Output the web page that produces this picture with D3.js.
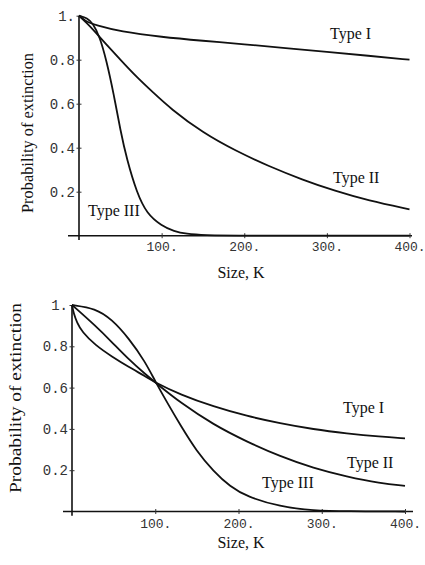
<!DOCTYPE html>
<html>
<head>
<meta charset="utf-8">
<script src="https://cdn.jsdelivr.net/npm/d3@7"></script>
<style>
  body { margin: 0; background: #fff; }
  svg { display: block; }
  .tick text { font-family: "Liberation Mono", "DejaVu Sans Mono", monospace; fill: #333; }
  .lbl { font-family: "Liberation Serif", "Times New Roman", serif; fill: #111; }
</style>
</head>
<body>
<div id="chart"></div>
<script>
// values: [K, probability]
const xTicks = [100, 200, 300, 400]
const yTicks = [0.2, 0.4, 0.6, 0.8, 1]
const seriesNames = ["Type I", "Type II", "Type III"]

// upper panel
const topTypeI = [[0,1],[5,0.985],[10,0.972],[20,0.957],[50,0.928],[100,0.903],[150,0.886],[200,0.87],[250,0.853],[300,0.836],[350,0.818],[400,0.8]]
const topTypeII = [[0,1],[10,0.965],[20,0.925],[30,0.882],[50,0.8],[70,0.72],[90,0.65],[110,0.58],[150,0.467],[190,0.385],[230,0.315],[270,0.255],[310,0.203],[350,0.16],[400,0.12]]
const topTypeIII = [[0,1],[10,0.99],[17,0.965],[25,0.905],[33,0.8],[42,0.645],[50,0.48],[58,0.345],[70,0.195],[82,0.1],[100,0.045],[115,0.02],[130,0.008],[150,0.002],[200,0],[400,0]]

// lower panel
const botTypeI = [[0,1],[2,0.96],[6,0.915],[12,0.87],[28,0.805],[48,0.75],[68,0.7],[88,0.655],[100,0.625],[130,0.566],[170,0.508],[210,0.462],[250,0.427],[290,0.398],[330,0.378],[370,0.362],[400,0.354]]
const botTypeII = [[0,1],[28,0.9],[48,0.82],[68,0.737],[88,0.665],[104,0.612],[130,0.528],[170,0.42],[210,0.338],[250,0.267],[290,0.21],[330,0.169],[370,0.137],[400,0.124]]
const botTypeIII = [[0,1],[28,0.984],[48,0.93],[68,0.84],[88,0.725],[100,0.63],[116,0.516],[130,0.42],[150,0.29],[170,0.195],[190,0.12],[210,0.072],[250,0.023],[290,0.004],[330,0.001],[400,0]]

var svg = d3.select("#chart").append("svg")
    .attr("width", 425)
    .attr("height", 565)

function drawPanel(p) {
    var x = d3.scaleLinear().domain([0, 400]).range([p.left, p.right])
    var y = d3.scaleLinear().domain([0, 1]).range([p.bottom, p.top])
    var g = svg.append("g")

    // x axis (line runs a bit past the origin, like the original)
    g.append("line")
        .attr("x1", p.axisStart).attr("x2", p.axisEnd)
        .attr("y1", y(0)).attr("y2", y(0))
        .attr("stroke", "#111").attr("stroke-width", 1.6)
    var xa = g.append("g")
        .attr("transform", "translate(0," + y(0) + ")")
        .call(d3.axisBottom(x).tickValues(xTicks).tickFormat(d => d + ".").tickSizeOuter(0))
    xa.select(".domain").remove()
    xa.selectAll(".tick line").attr("y1", -2.5).attr("y2", 2.5).attr("stroke", "#333")
    xa.selectAll(".tick text").attr("y", p.xLabelDy).attr("dy", 0).attr("font-size", 13)

    // y axis
    g.append("line")
        .attr("x1", x(0)).attr("x2", x(0))
        .attr("y1", y(-0.02)).attr("y2", y(1))
        .attr("stroke", "#111").attr("stroke-width", 1.6)
    var ya = g.append("g")
        .attr("transform", "translate(" + x(0) + ",0)")
        .call(d3.axisLeft(y).tickValues(yTicks).tickFormat(d => d === 1 ? "1." : d.toFixed(1)).tickSizeOuter(0))
    ya.select(".domain").remove()
    ya.selectAll(".tick line").attr("x1", -2.5).attr("x2", 2.5).attr("stroke", "#333")
    ya.selectAll(".tick text").attr("x", -4).attr("font-size", 14)

    // curves
    var line = d3.line()
        .x(d => x(d[0]))
        .y(d => y(d[1]))
        .curve(d3.curveBasis)
    g.selectAll("path.curve")
        .data(p.series)
        .enter()
        .append("path")
        .attr("class", "curve")
        .attr("d", line)
        .attr("fill", "none")
        .attr("stroke", "#111")
        .attr("stroke-width", 1.8)

    // curve names
    g.selectAll("text.name")
        .data(seriesNames)
        .enter()
        .append("text")
        .attr("class", "lbl name")
        .attr("x", (d, i) => p.names[i][0])
        .attr("y", (d, i) => p.names[i][1])
        .attr("font-size", 16)
        .text(d => d)

    // axis titles
    g.append("text")
        .attr("class", "lbl")
        .attr("x", 241).attr("y", p.xTitleY)
        .attr("text-anchor", "middle")
        .attr("font-size", 16)
        .text("Size, K")
    g.append("text")
        .attr("class", "lbl")
        .attr("transform", "translate(" + p.yTitleX + "," + p.yTitleMid + ") rotate(-90)")
        .attr("text-anchor", "middle")
        .attr("font-size", 16)
        .attr("textLength", p.yTitleLen)
        .attr("lengthAdjust", "spacingAndGlyphs")
        .text("Probability of extinction")
}

drawPanel({
    left: 79, right: 409.5, top: 15.7, bottom: 235.7,
    axisStart: 68, axisEnd: 412, xLabelDy: 15,
    series: [topTypeI, topTypeII, topTypeIII],
    names: [[330, 39], [333, 183], [88, 216]],
    xTitleY: 278, yTitleX: 33, yTitleMid: 133, yTitleLen: 160
})

drawPanel({
    left: 72, right: 405, top: 305, bottom: 511.5,
    axisStart: 63, axisEnd: 413, xLabelDy: 16,
    series: [botTypeI, botTypeII, botTypeIII],
    names: [[343, 413], [347, 468], [262, 488]],
    xTitleY: 548, yTitleX: 21, yTitleMid: 398, yTitleLen: 190
})
</script>
</body>
</html>
